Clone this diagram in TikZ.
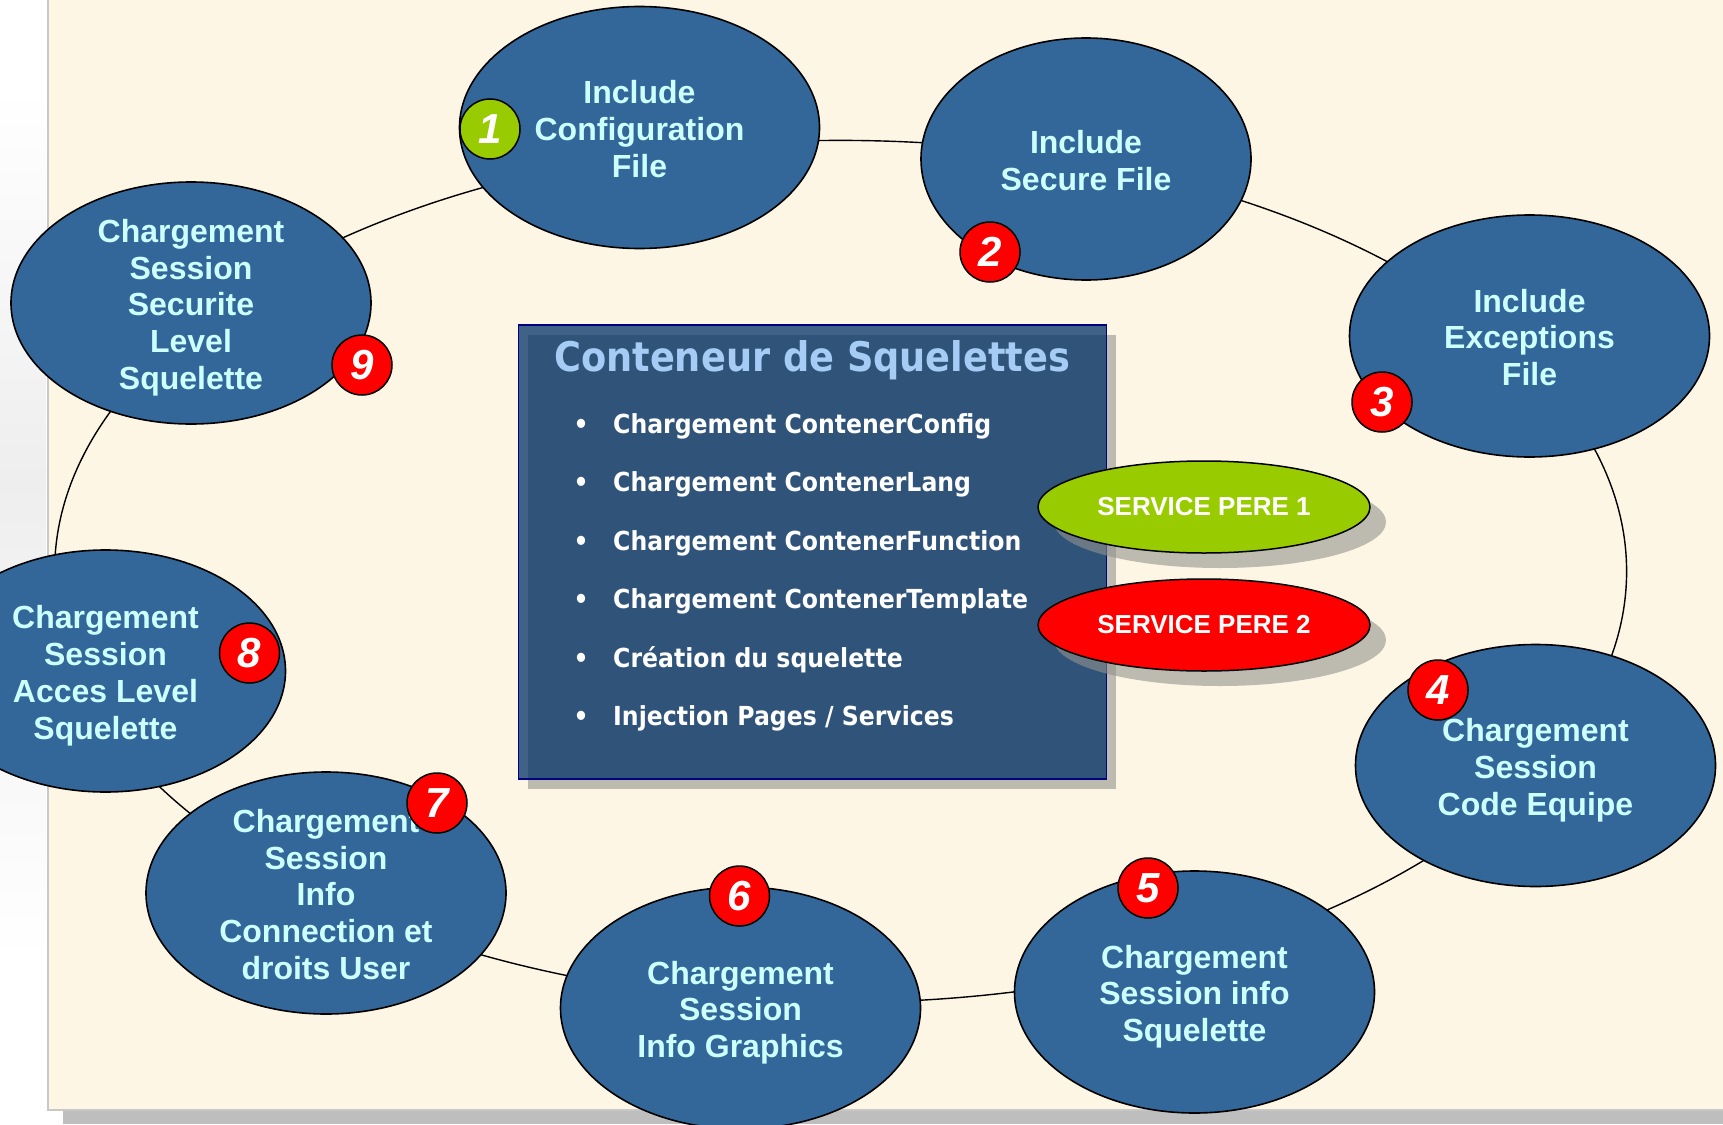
\documentclass[tikz,border=0pt]{standalone}
\usepackage{fontspec}
\setmainfont{Liberation Sans}
\newfontfamily\boxfont{DejaVu Sans}[FakeStretch=0.9]
\usetikzlibrary{shapes.geometric,shadows}

\definecolor{cream}{RGB}{254,246,228}
\definecolor{stageblue}{RGB}{51,102,153}
\definecolor{stagetxt}{RGB}{204,255,255}
\definecolor{badgered}{RGB}{255,0,0}
\definecolor{badgegreen}{RGB}{153,204,0}
\definecolor{boxblue}{RGB}{6,54,106}
\definecolor{boxline}{RGB}{0,0,128}
\definecolor{titleblue}{RGB}{166,204,245}
\definecolor{shadowc}{RGB}{146,146,141}
\definecolor{edgegray}{RGB}{200,200,200}
\definecolor{bandgray}{RGB}{190,190,190}
\definecolor{hazegray}{RGB}{238,238,238}

% fixed top height and bottom depth, so every label block centres the same way
\newcommand\topstrut{\rule{0pt}{33.6pt}}
\newcommand\botstrut{\rule[-8pt]{0pt}{8pt}}

\begin{document}
\begin{tikzpicture}[x=1pt,y=-1pt,
  stage/.style={ellipse, draw=black, line width=1.6pt, fill=stageblue,
    minimum width=360pt, minimum height=242pt, inner sep=0pt},
  stagetext/.style={align=center, text=stagetxt, inner sep=0pt,
    font=\fontsize{32}{36.8}\selectfont\bfseries},
  badge/.style={circle, draw=black, line width=1.5pt, fill=#1,
    minimum size=60pt, inner sep=0pt, text=white,
    font=\fontsize{42}{42}\selectfont\bfseries\itshape},
  ring/.style={ellipse, draw=black, line width=1.4pt,
    minimum width=1572pt, minimum height=862pt, inner sep=0pt},
  svc/.style={ellipse, draw=black, line width=1.5pt, fill=#1,
    minimum width=332pt, minimum height=92pt, inner sep=0pt, text=white,
    font=\fontsize{26}{26}\selectfont\bfseries,
    general shadow={fill=shadowc, opacity=0.6, shadow xshift=16pt, shadow yshift=-15pt}},
  cbox/.style={rectangle, draw=boxline, line width=1.6pt, fill=boxblue,
    fill opacity=0.77, minimum width=588pt, minimum height=454pt, inner sep=0pt,
    general shadow={fill=shadowc, opacity=0.6, shadow xshift=10pt, shadow yshift=-10pt}},
  boxtitle/.style={anchor=base west, inner sep=0pt, text=titleblue,
    font=\boxfont\fontsize{40.8}{40.8}\selectfont\bfseries},
  item/.style={anchor=base west, inner sep=0pt, text=white,
    font=\boxfont\fontsize{26.2}{26.2}\selectfont\bfseries},
  dot/.style={anchor=base, inner sep=0pt, text=white,
    font=\boxfont\fontsize{26}{26}\selectfont\bfseries}
]
\useasboundingbox (0,0) rectangle (1723,1124);
\clip (0,0) rectangle (1723,1124);

% page and slide background
\fill[white] (0,0) rectangle (1723,1124);
\shade[top color=white, bottom color=hazegray] (0,90) rectangle (46,480);
\shade[top color=hazegray, bottom color=white] (0,480) rectangle (46,960);
\fill[bandgray] (63,1111) rectangle (1723,1124);
\fill[cream] (48,0) rectangle (1723,1110);
\draw[edgegray, line width=2pt] (48,0) -- (48,1110) -- (1723,1110);

% the loop that links all stages
\node[ring] (loop) at (840.6,571.4) {};

% central container
\node[cbox, anchor=north west] (box) at (517.6,324) {};
\node[boxtitle] (title) at (554,371) {Conteneur de Squelettes};
\foreach \y/\t [count=\i] in {433/{Chargement ContenerConfig},
    491.5/{Chargement ContenerLang},
    550/{Chargement ContenerFunction},
    608.5/{Chargement ContenerTemplate},
    667/{Création du squelette},
    725.5/{Injection Pages / Services}}{
  \node[dot] (d\i) at (581,\y) {•};
  \node[item] (i\i) at (613,\y) {\t};
}

% parent services
\node[svc=badgegreen] (s1) at (1204,507) {SERVICE PERE 1};
\node[svc=badgered] (s2) at (1204,625) {SERVICE PERE 2};

% stages
\node[stage] (n1) at (639.5,127.5) {};
\node[stage, minimum width=330pt] (n2) at (1086,159) {};
\node[stage] (n3) at (1529.5,336) {};
\node[stage] (n4) at (1535.5,765.5) {};
\node[stage] (n5) at (1194.5,992) {};
\node[stage] (n6) at (740.5,1008) {};
\node[stage] (n7) at (326,893) {};
\node[stage] (n8) at (105.5,671) {};
\node[stage] (n9) at (191,303) {};

\node[stagetext] (t1) at (n1) {\topstrut Include\\Configuration\\File\botstrut};
\node[stagetext] (t2) at (n2) {\topstrut Include\\Secure File\botstrut};
\node[stagetext] (t3) at (n3) {\topstrut Include\\Exceptions\\File\botstrut};
\node[stagetext] (t4) at (n4) {\topstrut Chargement\\Session\\Code Equipe\botstrut};
\node[stagetext] (t5) at (n5) {\topstrut Chargement\\Session info\\Squelette\botstrut};
\node[stagetext] (t6) at (n6) {\topstrut Chargement\\Session\\Info Graphics\botstrut};
\node[stagetext] (t7) at (n7) {\topstrut Chargement\\Session\\Info\\Connection et\\droits User\botstrut};
\node[stagetext] (t8) at (n8) {\topstrut Chargement\\Session\\Acces Level\\Squelette\botstrut};
\node[stagetext] (t9) at (n9) {\topstrut Chargement\\Session\\Securite\\Level\\Squelette\botstrut};

% step numbers
\node[badge=badgegreen] (b1) at (490,129) {1};
\node[badge=badgered] (b2) at (990,252) {2};
\node[badge=badgered] (b3) at (1382,402) {3};
\node[badge=badgered] (b4) at (1438,690) {4};
\node[badge=badgered] (b5) at (1148,888) {5};
\node[badge=badgered] (b6) at (739.5,896) {6};
\node[badge=badgered] (b7) at (437,803) {7};
\node[badge=badgered] (b8) at (249.5,653) {8};
\node[badge=badgered] (b9) at (362,365) {9};
\end{tikzpicture}
\end{document}
